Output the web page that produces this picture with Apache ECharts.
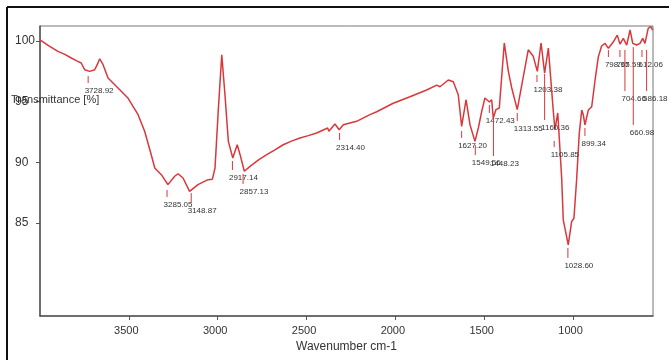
<!DOCTYPE html>
<html>
<head>
<meta charset="utf-8">
<script src="https://cdn.jsdelivr.net/npm/echarts@6.0.0/dist/echarts.min.js"></script>
<style>
  html, body { margin: 0; padding: 0; background: #fff; }
  #chart { width: 669px; height: 360px; }
</style>
</head>
<body>
<div id="chart"></div>
<script>
// FTIR spectrum
const wavenumbers = [
  4000, 3950, 3899, 3860, 3824, 3790, 3768, 3748, 3720, 3692, 3678, 3664, 3645, 3617, 3561, 3505,
  3448, 3411, 3374, 3354, 3317, 3280, 3242, 3223, 3195, 3158, 3111, 3054, 3030, 3015, 2997, 2977,
  2959, 2940, 2915, 2890, 2874, 2850, 2818, 2770, 2724, 2680, 2631, 2585, 2537, 2490, 2443, 2381,
  2374, 2340, 2316, 2293, 2218, 2143, 2105, 2012, 1918, 1824, 1767, 1749, 1702, 1674, 1664, 1646,
  1627, 1602, 1580, 1552, 1533, 1514, 1496, 1471, 1458, 1449, 1434, 1415, 1387, 1364, 1345, 1314,
  1283, 1252, 1224, 1201, 1180, 1160, 1139, 1111, 1102, 1086, 1064, 1055, 1045, 1027, 1008, 995,
  980, 965, 951, 942, 933, 914, 895, 876, 858, 839, 820, 801, 773, 751, 736, 717,
  698, 679, 664, 642, 623, 608, 595, 577, 563, 552,
];
const transmittance = [
  100.1, 99.6, 99.15, 98.9, 98.6, 98.35, 98.19, 97.63, 97.5, 97.63, 98.05, 98.54, 98.05, 96.95, 96.13, 95.3,
  93.93, 92.56, 90.63, 89.53, 88.98, 88.16, 88.85, 89.06, 88.71, 87.61, 88.16, 88.57, 88.6, 89.53, 94.2, 98.87,
  95.57, 91.73, 90.36, 91.45, 90.63, 89.26, 89.67, 90.2, 90.63, 91.0, 91.45, 91.75, 92.0, 92.2, 92.42, 92.83,
  92.56, 93.16, 92.69, 93.1, 93.38, 93.93, 94.17, 94.87, 95.41, 95.96, 96.37, 96.23, 96.79, 96.65, 96.73, 95.57,
  92.97, 95.16, 93.1, 91.73, 92.83, 94.2, 95.3, 94.97, 95.16, 93.65, 94.34, 94.48, 99.84, 97.5, 96.13, 94.34,
  96.81, 99.28, 98.74, 97.5, 99.84, 97.36, 99.42, 94.2, 92.69, 94.07, 88.71, 85.25, 85.11, 83.19, 85.11, 85.39,
  88.54, 92.39, 94.31, 93.9, 93.08, 94.31, 94.58, 96.79, 98.68, 99.59, 99.81, 99.4, 99.94, 100.49, 99.75, 100.22,
  99.67, 100.91, 99.81, 99.67, 99.81, 100.22, 99.81, 101.05, 101.18, 100.9,
];

// peak annotations: label text, marker position and the span of its tick line
const peakLabels = [
  "3728.92", "3285.05", "3148.87", "2917.14", "2857.13", "2314.40", "1627.20", "1549.56",
  "1472.43", "1448.23", "1313.55", "1203.38", "1160.36", "1105.85", "1028.60", "899.34",
  "798.97", "765.59", "704.66", "660.98", "612.06", "586.18",
];
const peakPos = [3729, 3285, 3149, 2917, 2857, 2314, 1627, 1550, 1471, 1448, 1314, 1203, 1160, 1106, 1029, 933, 801, 736, 708, 661, 612, 586];
const peakTop = [97.12, 87.72, 87.47, 90.11, 89.04, 92.42, 92.58, 91.43, 94.73, 93.82, 94.07, 97.2, 97.28, 91.76, 82.94, 92.83, 99.26, 99.26, 99.26, 99.5, 99.26, 99.26];
const peakBottom = [96.54, 87.14, 86.65, 89.37, 88.21, 91.84, 92.01, 90.6, 94.07, 90.52, 93.41, 96.62, 93.49, 91.26, 82.12, 92.17, 98.68, 98.68, 95.88, 93.08, 98.68, 95.88];

const xTicks = [3500, 3000, 2500, 2000, 1500, 1000];
const yTicks = [85, 90, 95, 100];

const lineColor = "#d8383c";
const textColor = "#333";
const font = "Liberation Sans, Arial, sans-serif";

const spectrum = wavenumbers.map((w, i) => [w, transmittance[i]]);
const peaks = peakPos.map((p, i) => [p, peakTop[i], peakBottom[i]]);

const chart = echarts.init(document.getElementById("chart"), null, { renderer: "canvas" });

chart.setOption({
  backgroundColor: "#fff",
  animation: false,
  textStyle: { fontFamily: font },
  grid: {
    left: 40, right: 16, top: 26, bottom: 44,
    show: true, borderColor: "#777", borderWidth: 1,
  },
  xAxis: {
    type: "value",
    min: 550,
    max: 4000,
    inverse: true,
    name: "Wavenumber cm-1",
    nameLocation: "middle",
    nameGap: 24,
    nameTextStyle: { fontSize: 12, color: textColor, fontFamily: font },
    axisLine: { show: true, onZero: false, lineStyle: { color: "#555", width: 1.5 } },
    axisTick: { show: true, length: 4, customValues: xTicks, lineStyle: { color: "#555" } },
    axisLabel: {
      customValues: xTicks,
      formatter: (v) => String(v),
      margin: 9,
      padding: [0, 5, 0, 0],
      fontSize: 11,
      color: textColor,
      fontFamily: font,
    },
    splitLine: { show: false },
  },
  yAxis: {
    type: "value",
    min: 77.33,
    max: 101.24,
    axisLine: { show: true, lineStyle: { color: "#555", width: 1.5 } },
    axisTick: { show: true, length: 4, customValues: yTicks, lineStyle: { color: "#555" } },
    axisLabel: { customValues: yTicks, align: "left", margin: 25, fontSize: 12, color: textColor, fontFamily: font },
    splitLine: { show: false },
  },
  graphic: [
    // outer black frame (left and top edges show)
    { type: "line", shape: { x1: 7, y1: 7, x2: 669, y2: 7 }, style: { stroke: "#111", lineWidth: 2 } },
    { type: "line", shape: { x1: 7, y1: 7, x2: 7, y2: 360 }, style: { stroke: "#111", lineWidth: 2 } },
    {
      type: "text", left: 11, top: 94, z: 10,
      style: { text: "Transmittance [%]", fontSize: 11, fontFamily: font, fill: textColor },
    },
  ],
  series: [
    {
      name: "Spectrum",
      type: "line",
      data: spectrum,
      showSymbol: false,
      smooth: false,
      lineStyle: { color: lineColor, width: 1.5 },
      z: 3,
    },
    {
      name: "Peaks",
      type: "custom",
      data: peaks,
      encode: { x: 0, y: [1, 2] },
      clip: false,
      z: 4,
      renderItem: (params, api) => {
        const top = api.coord([api.value(0), api.value(1)]);
        const bottom = api.coord([api.value(0), api.value(2)]);
        return {
          type: "group",
          children: [
            {
              type: "line",
              shape: { x1: top[0], y1: top[1], x2: bottom[0], y2: bottom[1] },
              style: { stroke: lineColor, lineWidth: 1 },
            },
            {
              type: "text",
              x: bottom[0] - 3.5,
              y: bottom[1] + 4,
              style: {
                text: peakLabels[params.dataIndex],
                fill: textColor,
                fontSize: 8,
                fontFamily: font,
                align: "left",
                verticalAlign: "top",
              },
            },
          ],
        };
      },
    },
  ],
});
</script>
</body>
</html>
